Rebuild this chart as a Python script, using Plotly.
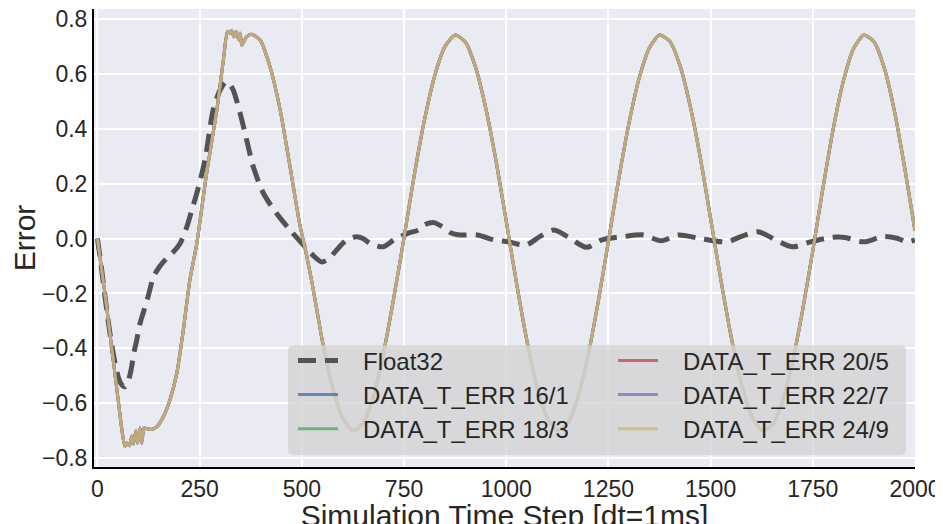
import plotly.graph_objects as go

# ---------------- data ----------------
float32_x = [0, 10, 20, 30, 40, 50, 58, 67, 75, 82, 90, 96, 104, 112, 124, 137, 153, 169, 185,
             202, 218, 230, 243, 263, 283, 300, 314, 322, 332, 349, 365, 381, 406, 438, 471,
             504, 530, 548, 565, 585, 610, 634, 650, 667, 699, 725, 759, 785, 800, 823, 844,
             865, 886, 929, 971, 1005, 1048, 1082, 1116, 1150, 1196, 1234, 1285, 1336, 1379,
             1421, 1472, 1540, 1574, 1616, 1659, 1701, 1744, 1795, 1829, 1875, 1922, 1956,
             1981, 2000]
float32_y = [0.0, -0.11, -0.23, -0.34, -0.43, -0.50, -0.53, -0.54, -0.52, -0.48, -0.41, -0.37,
             -0.31, -0.27, -0.21, -0.14, -0.10, -0.072, -0.05, -0.018, 0.04, 0.10, 0.165, 0.286,
             0.468, 0.541, 0.571, 0.565, 0.541, 0.456, 0.359, 0.262, 0.165, 0.092, 0.031,
             -0.024, -0.065, -0.085, -0.075, -0.042, -0.005, 0.007, 0.0, -0.018, -0.03, -0.005,
             0.019, 0.031, 0.05, 0.058, 0.043, 0.02, 0.013, 0.013, -0.005, -0.012, -0.024,
             0.007, 0.031, 0.007, -0.032, -0.005, 0.007, 0.013, -0.008, 0.013, 0.001, -0.012,
             0.007, 0.025, -0.005, -0.03, -0.012, 0.004, 0.004, -0.012, 0.007, 0.001, -0.012,
             -0.005]

err_x = [0, 10, 20, 30, 40, 50, 60, 67, 72, 78, 84, 88, 94, 98, 104, 108, 114, 120, 132, 145,
         161, 177, 194, 210, 226, 243, 267, 292, 308, 318, 324, 328, 334, 339, 345, 349, 353,
         365, 377, 398, 422, 447, 471, 495, 510, 525, 550, 575, 600, 625, 650, 675, 700, 725,
         750, 775, 800, 825, 850, 875, 900, 925, 950, 975, 1000, 1025, 1050, 1075, 1100, 1125,
         1150, 1175, 1200, 1225, 1250, 1275, 1300, 1325, 1350, 1375, 1400, 1425, 1450, 1475,
         1500, 1525, 1550, 1575, 1600, 1625, 1650, 1675, 1700, 1725, 1750, 1775, 1800, 1825,
         1850, 1875, 1900, 1925, 1950, 1975, 2000]
err_y = [0.0, -0.11, -0.22, -0.34, -0.46, -0.58, -0.70, -0.757, -0.745, -0.755, -0.72, -0.748,
         -0.70, -0.745, -0.69, -0.745, -0.69, -0.692, -0.695, -0.686, -0.649, -0.589, -0.491,
         -0.333, -0.151, -0.018, 0.238, 0.468, 0.65, 0.754, 0.748, 0.757, 0.735, 0.754, 0.726,
         0.748, 0.705, 0.735, 0.744, 0.723, 0.626, 0.468, 0.262, 0.05, -0.05, -0.162, -0.371,
         -0.541, -0.654, -0.70, -0.672, -0.574, -0.415, -0.215, 0.004, 0.231, 0.432, 0.593,
         0.699, 0.741, 0.716, 0.624, 0.474, 0.283, 0.063, -0.161, -0.368, -0.538, -0.652,
         -0.699, -0.675, -0.58, -0.427, -0.23, -0.009, 0.215, 0.418, 0.583, 0.694, 0.741,
         0.719, 0.63, 0.483, 0.293, 0.072, -0.15, -0.356, -0.527, -0.644, -0.698, -0.681,
         -0.596, -0.451, -0.261, -0.044, 0.186, 0.40, 0.575, 0.693, 0.741, 0.716, 0.62,
         0.462, 0.256, 0.028]

series_names = ["DATA_T_ERR 16/1", "DATA_T_ERR 18/3", "DATA_T_ERR 20/5",
                "DATA_T_ERR 22/7", "DATA_T_ERR 24/9"]
series_colors = ["#4C72B0", "#55A868", "#C44E52", "#8172B2", "#CCB974"]
legend_ranks = [3, 5, 2, 4, 6]

x_ticks = [0, 250, 500, 750, 1000, 1250, 1500, 1750, 2000]
y_ticks = [-0.8, -0.6, -0.4, -0.2, 0.0, 0.2, 0.4, 0.6, 0.8]
y_tick_text = ["\u22120.8", "\u22120.6", "\u22120.4", "\u22120.2", "0.0", "0.2", "0.4", "0.6", "0.8"]

# ---------------- figure ----------------
FONT = "Liberation Sans"
PAD = "\u00a0\u00a0\u00a0"   # gap between legend handle and label
fig = go.Figure()

fig.add_trace(go.Scatter(
    x=float32_x, y=float32_y, mode="lines", name=PAD + "Float32",
    line=dict(color="#535355", width=5, dash="18px,9px", shape="spline", smoothing=0.8),
    legendrank=1,
))
for name, color, rank in zip(series_names, series_colors, legend_ranks):
    fig.add_trace(go.Scatter(
        x=err_x, y=err_y, mode="lines", name=PAD + name, opacity=0.8,
        line=dict(color=color, width=3, shape="spline", smoothing=0.6),
        legendrank=rank,
    ))

# legend frame (rounded, semi-transparent light gray)
x0, x1, y0, y1 = 0.2363, 0.989, 0.0256, 0.2659
rx, ry = 0.0075, 0.013
path = (f"M{x0+rx},{y0} L{x1-rx},{y0} Q{x1},{y0} {x1},{y0+ry} L{x1},{y1-ry} "
        f"Q{x1},{y1} {x1-rx},{y1} L{x0+rx},{y1} Q{x0},{y1} {x0},{y1-ry} "
        f"L{x0},{y0+ry} Q{x0},{y0} {x0+rx},{y0} Z")
fig.add_shape(type="path", path=path, xref="paper", yref="paper", layer="above",
              fillcolor="rgba(211,211,211,0.8)", line=dict(width=0))

# the page body adds an 8px offset; margins compensate for it
fig.update_layout(
    width=943, height=524,
    margin=dict(l=86, r=36, t=1, b=65, autoexpand=False),
    paper_bgcolor="white", plot_bgcolor="#EAEAF2",
    font=dict(family=FONT, color="#262626", size=23),
    showlegend=True,
    legend=dict(
        orientation="h", x=0.2424, y=0.281, xanchor="left", yanchor="top",
        bgcolor="rgba(0,0,0,0)", borderwidth=0,
        font=dict(family=FONT, size=24, color="#262626"),
        entrywidth=265, itemwidth=40,
    ),
    xaxis=dict(
        range=[-8.5, 2000], tickvals=x_ticks, ticks="", showgrid=True,
        gridcolor="white", gridwidth=1.5, zeroline=False,
        showline=True, linecolor="black", linewidth=2,
        ticklabeloverflow="allow",
        tickfont=dict(size=23), title=dict(text="Simulation Time Step [dt=1ms]",
                                          font=dict(size=30), standoff=3),
    ),
    yaxis=dict(
        range=[-0.832, 0.836], tickvals=y_ticks, ticktext=y_tick_text, ticks="",
        showgrid=True, gridcolor="white", gridwidth=1.5, zeroline=False,
        showline=True, linecolor="black", linewidth=2,
        ticklabeloverflow="allow",
        tickfont=dict(size=23), title=dict(text="Error", font=dict(size=30), standoff=17),
    ),
)

fig.write_html("out.html")
